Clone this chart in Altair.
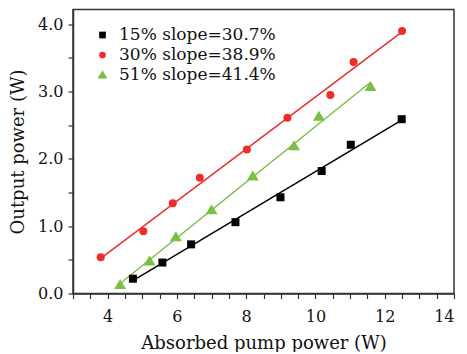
import altair as alt
import pandas as pd

labels = ["15% slope=30.7%", "30% slope=38.9%", "51% slope=41.4%"]
colors = ["#000000", "#EE2C2C", "#7AC143"]
shapes = ["square", "circle", "M0,-1.45L1.5,1.05L-1.5,1.05Z"]

x15 = [4.73, 5.58, 6.41, 7.69, 8.99, 10.18, 11.02, 12.49]
y15 = [0.22, 0.46, 0.73, 1.06, 1.43, 1.82, 2.21, 2.59]
x30 = [3.80, 5.03, 5.88, 6.66, 8.02, 9.19, 10.43, 11.10, 12.50]
y30 = [0.54, 0.925, 1.34, 1.72, 2.14, 2.61, 2.95, 3.44, 3.90]
x51 = [4.36, 5.21, 5.97, 7.00, 8.19, 9.38, 10.10, 11.59]
y51 = [0.13, 0.48, 0.84, 1.24, 1.74, 2.19, 2.63, 3.07]

x_ticks = [3 + 0.5 * i for i in range(23)]
y_ticks = [0.5 * i for i in range(9)]

rows = []
for lab, xs, ys in zip(labels, [x15, x30, x51], [y15, y30, y51]):
    for a, b in zip(xs, ys):
        rows.append({"x": a, "y": b, "series": lab})
df = pd.DataFrame(rows)

font = "DejaVu Serif"

xscale = alt.Scale(domain=[3, 14], nice=False, zero=False)
yscale = alt.Scale(domain=[0, 4.22], nice=False, zero=False)
cscale = alt.Scale(domain=labels, range=colors)
sscale = alt.Scale(domain=labels, range=shapes)

xaxis = alt.Axis(
    title="Absorbed pump power (W)",
    values=x_ticks,
    labelExpr="datum.value % 2 === 0 ? format(datum.value, 'd') : ''",
    labelOverlap=False,
    grid=False,
    tickSize=5,
    labelPadding=10,
    titlePadding=10,
)
yaxis = alt.Axis(
    title="Output power (W)",
    values=y_ticks,
    labelExpr="datum.value % 1 === 0 ? format(datum.value, '.1f') : ''",
    labelOverlap=False,
    grid=False,
    tickSize=5,
    labelPadding=5,
    titlePadding=10,
)

leg = alt.Legend(
    title=None, orient="none", legendX=21, legendY=17,
    labelFont=font, labelFontSize=17, labelColor="#111",
    symbolSize=45, labelOffset=8, padding=0, rowPadding=2,
    labelLimit=300,
)

base = alt.Chart(df)

layers = []
for lab, col in zip(labels, colors):
    layers.append(
        base.transform_filter(alt.datum.series == lab)
        .transform_regression("x", "y")
        .mark_line(strokeWidth=1.5, color=col)
        .encode(
            x=alt.X("x:Q", scale=xscale, axis=xaxis),
            y=alt.Y("y:Q", scale=yscale, axis=yaxis),
        )
    )

points = base.mark_point(filled=True, opacity=1, size=64).encode(
    x=alt.X("x:Q", scale=xscale, axis=xaxis),
    y=alt.Y("y:Q", scale=yscale, axis=yaxis),
    color=alt.Color("series:N", scale=cscale, legend=leg),
    shape=alt.Shape("series:N", scale=sscale, legend=leg),
)
layers.append(points)

chart = alt.layer(*layers).properties(
    width=381,
    height=284,
    background="white",
    autosize=alt.AutoSizeParams(type="none"),
    padding={"left": 65, "top": 1.5, "right": 5, "bottom": 58},
).configure(
    font=font,
    style={"guide-label": {"font": font, "fontSize": 17, "fill": "#111"}},
).configure_view(
    stroke="#333", strokeWidth=1.5
).configure_axis(
    domainColor="#333", domainWidth=1.5, tickColor="#333", tickWidth=1.2,
    labelFont=font, labelFontSize=16, labelColor="#111",
    titleFont=font, titleFontSize=18, titleFontWeight="normal", titleColor="#111",
).configure_legend(
    labelFont=font, labelFontSize=17, labelColor="#111",
)

chart.save("out.html", embed_options={"renderer": "svg", "actions": False})
